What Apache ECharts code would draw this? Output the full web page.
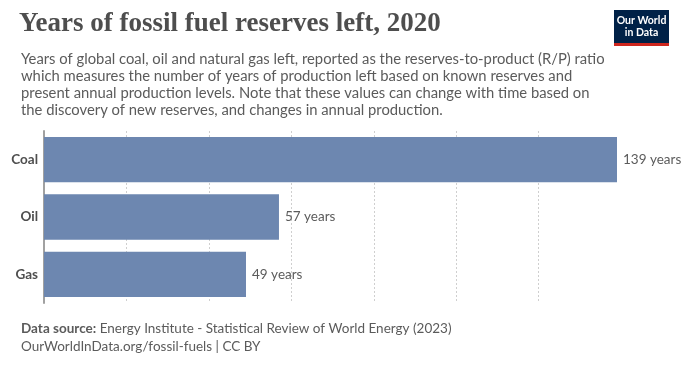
<!DOCTYPE html>
<html>
<head>
<meta charset="utf-8">
<script src="https://cdn.jsdelivr.net/npm/echarts@6/dist/echarts.min.js"></script>
<style>
html,body{margin:0;padding:0;background:#fff;}
#chart{width:700px;height:367px;}
</style>
</head>
<body>
<div id="chart"></div>
<script>
const categories = ['Coal', 'Oil', 'Gas'];
const values = [139, 57, 49];
const unitSuffix = ' years';
const titleText = 'Years of fossil fuel reserves left, 2020';
const subtitleLines = [
  'Years of global coal, oil and natural gas left, reported as the reserves-to-product (R/P) ratio',
  'which measures the number of years of production left based on known reserves and',
  'present annual production levels. Note that these values can change with time based on',
  'the discovery of new reserves, and changes in annual production.'
];

const chart = echarts.init(document.getElementById('chart'), null, {renderer: 'canvas'});
const option = {
  backgroundColor: '#ffffff',
  animation: false,
  title: [
    {
      text: titleText, left: 14, top: 6,
      textStyle: {fontFamily: 'Liberation Serif', fontSize: 27, fontWeight: 'bold', color: '#4e4e4e'}
    },
    {
      text: subtitleLines.join('\n'), left: 16, top: 46,
      textStyle: {fontFamily: 'Lato', fontSize: 14.8, fontWeight: 'normal', color: '#5b5b5b', lineHeight: 17}
    },
    {
      text: '{b|Data source:} Energy Institute - Statistical Review of World Energy (2023)\nOurWorldInData.org/fossil-fuels | CC BY',
      left: 16, top: 315,
      textStyle: {
        fontFamily: 'Lato', fontSize: 13.5, fontWeight: 'normal', color: '#5b5b5b', lineHeight: 17.5,
        rich: {b: {fontFamily: 'Lato', fontSize: 13.5, fontWeight: 'bold', color: '#5b5b5b', lineHeight: 17.5}}
      }
    }
  ],
  graphic: [
    {type: 'rect', left: 614, top: 10, shape: {width: 55, height: 33}, style: {fill: '#002147'}},
    {type: 'rect', left: 614, top: 43, shape: {width: 55, height: 3}, style: {fill: '#ce261e'}},
    {type: 'text', x: 641.5, y: 15, style: {text: 'Our World\nin Data', fill: '#ffffff', font: 'bold 10.5px Lato', lineHeight: 11.5, align: 'center'}}
  ],
  grid: {left: 44, right: 83, top: 131, height: 172, containLabel: false},
  xAxis: {
    type: 'value', min: 0, max: 139, interval: 20,
    axisLabel: {show: false}, axisTick: {show: false}, axisLine: {show: false},
    splitLine: {show: true, showMinLine: false, showMaxLine: false, lineStyle: {color: '#cfcfcf', type: [2, 2], width: 1}}
  },
  yAxis: {
    type: 'category', data: categories, inverse: true,
    axisTick: {show: false},
    axisLine: {show: true, lineStyle: {color: '#a1a1a1', width: 2}},
    axisLabel: {fontFamily: 'Lato', fontSize: 13.5, fontWeight: 'bold', color: '#4e4e4e', margin: 6}
  },
  series: [{
    type: 'bar', data: values, barCategoryGap: '21%',
    itemStyle: {color: '#6d87b0'},
    label: {
      show: true, position: 'right', distance: 6,
      formatter: p => p.value + unitSuffix,
      fontFamily: 'Lato', fontSize: 13.5, color: '#5b5b5b'
    }
  }]
};
chart.setOption(option);
</script>
</body>
</html>
